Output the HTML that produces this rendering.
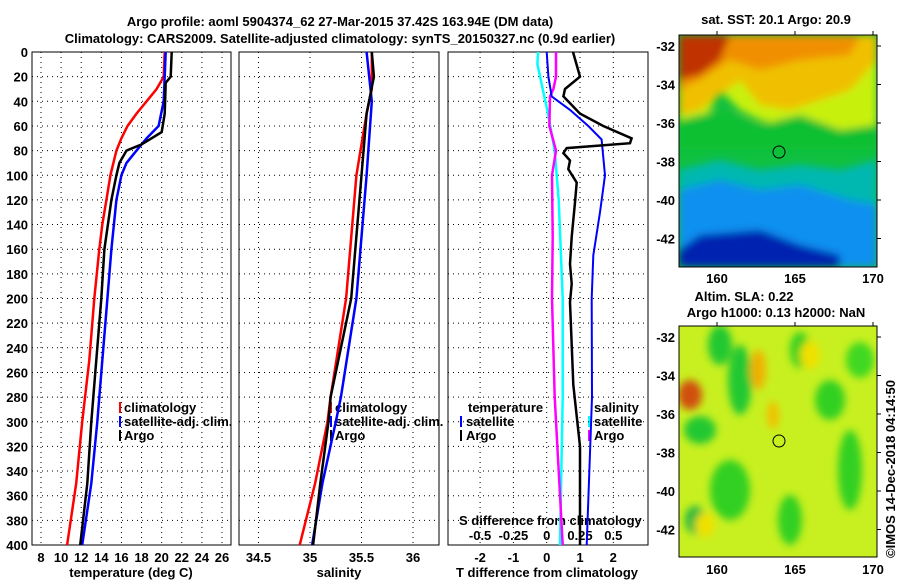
<!DOCTYPE html>
<html><head><meta charset="utf-8"><style>
body{margin:0;background:#fff}
svg text{font-family:"Liberation Sans",sans-serif;font-weight:bold;font-size:13px;fill:#000}
</style></head><body>
<svg id="c" width="900" height="580" xmlns="http://www.w3.org/2000/svg">
<defs><filter id="bl"><feGaussianBlur stdDeviation="4"/></filter>
<clipPath id="m1"><rect x="679" y="35" width="198" height="232"/></clipPath>
<clipPath id="m2"><rect x="679" y="326" width="198" height="231"/></clipPath></defs>
<text x="340" y="26" text-anchor="middle" font-size="14">Argo profile: aoml 5904374_62 27-Mar-2015 37.42S 163.94E (DM data)</text>
<text x="340" y="43" text-anchor="middle" font-size="14">Climatology: CARS2009. Satellite-adjusted climatology: synTS_20150327.nc (0.9d earlier)</text>
<g clip-path="url(#m1)">
<rect x="679" y="35" width="198" height="232" fill="#10c040"/>
<g filter="url(#bl)">
<polygon points="679,35 877,35 877,150 840,140 800,130 760,120 740,110 720,90 700,130 679,135" fill="#c8f010"/>
<polygon points="679,35 877,35 877,60 850,90 820,100 790,110 760,105 740,80 700,110 679,115" fill="#f0c000"/>
<polygon points="679,35 860,35 850,55 800,60 760,70 730,60 700,80 679,90" fill="#f09000"/>
<polygon points="679,35 730,35 720,60 700,75 679,80" fill="#c03000"/>
<polygon points="679,120 720,110 760,125 800,115 840,130 877,125 877,150 679,150" fill="#10c030"/>
<polygon points="679,170 720,160 760,170 800,165 840,170 877,160 877,267 679,267" fill="#00b8b0"/>
<polygon points="679,190 720,180 760,190 800,185 850,200 877,205 877,267 679,267" fill="#1090f0"/>
<polygon points="679,250 700,235 760,230 800,245 840,255 840,267 679,267" fill="#0020b0"/>
</g>
<circle cx="779" cy="152" r="6" fill="none" stroke="#000"/>
</g>
<rect x="679" y="35" width="198" height="232" fill="none" stroke="#000"/>
<g clip-path="url(#m2)">
<rect x="679" y="326" width="198" height="231" fill="#c8f020"/>
<g filter="url(#bl)">
<ellipse cx="720" cy="345" rx="12" ry="20" fill="#20c830"/>
<ellipse cx="740" cy="380" rx="12" ry="35" fill="#20c830"/>
<ellipse cx="700" cy="430" rx="16" ry="14" fill="#20c830"/>
<ellipse cx="730" cy="490" rx="20" ry="30" fill="#30d020"/>
<ellipse cx="695" cy="520" rx="10" ry="14" fill="#20b840"/>
<ellipse cx="800" cy="350" rx="10" ry="18" fill="#30d020"/>
<ellipse cx="830" cy="400" rx="15" ry="20" fill="#30d020"/>
<ellipse cx="850" cy="470" rx="12" ry="40" fill="#30d020"/>
<ellipse cx="790" cy="520" rx="12" ry="25" fill="#30d020"/>
<ellipse cx="860" cy="360" rx="14" ry="18" fill="#40d820"/>
<ellipse cx="690" cy="395" rx="12" ry="15" fill="#d05010"/>
<ellipse cx="758" cy="370" rx="8" ry="20" fill="#f0b000"/>
<ellipse cx="773" cy="415" rx="6" ry="14" fill="#f0c000"/>
<ellipse cx="810" cy="355" rx="10" ry="14" fill="#f0e000"/>
<ellipse cx="705" cy="525" rx="10" ry="12" fill="#f0e000"/>
</g>
<circle cx="779" cy="441" r="6" fill="none" stroke="#000"/>
</g>
<rect x="679" y="326" width="198" height="231" fill="none" stroke="#000"/>
<text x="776" y="24" text-anchor="middle">sat. SST: 20.1 Argo: 20.9</text>
<text x="744" y="301" text-anchor="middle">Altim. SLA: 0.22</text>
<text x="776" y="317" text-anchor="middle">Argo h1000: 0.13 h2000: NaN</text>
<text transform="translate(895,558) rotate(-90)" font-weight="normal" font-size="12">©IMOS 14-Dec-2018 04:14:50</text>
<g>
<text x="131" y="577" text-anchor="middle">temperature (deg C)</text>
<text x="339" y="577" text-anchor="middle">salinity</text>
<text x="547" y="577" text-anchor="middle">T difference from climatology</text>
<text x="459" y="525">S difference from climatology</text>
<line x1="120" x2="120" y1="402" y2="413" stroke="#f00" stroke-width="2"/>
<text x="124" y="412">climatology</text>
<line x1="120" x2="120" y1="416" y2="427" stroke="#00f" stroke-width="2"/>
<text x="124" y="426">satellite-adj. clim.</text>
<line x1="120" x2="120" y1="430" y2="441" stroke="#000" stroke-width="2"/>
<text x="124" y="440">Argo</text>
<line x1="331" x2="331" y1="402" y2="413" stroke="#f00" stroke-width="2"/>
<text x="335" y="412">climatology</text>
<line x1="331" x2="331" y1="416" y2="427" stroke="#00f" stroke-width="2"/>
<text x="335" y="426">satellite-adj. clim.</text>
<line x1="331" x2="331" y1="430" y2="441" stroke="#000" stroke-width="2"/>
<text x="335" y="440">Argo</text>
<text x="468" y="412">temperature</text>
<line x1="461" x2="461" y1="416" y2="427" stroke="#00f" stroke-width="2"/>
<text x="466" y="426">satellite</text>
<line x1="461" x2="461" y1="430" y2="441" stroke="#000" stroke-width="2"/>
<text x="466" y="440">Argo</text>
<text x="594" y="412">salinity</text>
<line x1="589" x2="589" y1="416" y2="427" stroke="#0ff" stroke-width="2"/>
<text x="594" y="426">satellite</text>
<line x1="589" x2="589" y1="430" y2="441" stroke="#f0f" stroke-width="2"/>
<text x="594" y="440">Argo</text>
</g>
</svg>
<script>
// depth levels (dbar)
const tDepth=[0,20,30,40,50,60,70,80,100,120,140,160,200,250,300,350,400];
const tClim=[20.3,20.2,19.5,18.5,17.5,16.6,16.0,15.5,14.9,14.5,14.1,13.8,13.3,12.8,12.1,11.5,10.6];
const tSatDepth=[0,40,60,70,80,90,100,120,160,200,280,300,350,400];
const tSat=[20.4,20.2,19.7,18.5,17.5,16.5,16.0,15.5,15.0,14.6,13.8,13.6,13.0,12.1];
const tArgoDepth=[0,20,25,50,65,75,80,90,100,120,160,200,280,300,350,400];
const tArgo=[21.0,20.9,20.4,20.3,20.0,18.0,16.5,15.8,15.5,15.0,14.3,14.0,13.2,13.0,12.6,11.9];
const sDepth=[0,30,50,100,200,280,300,350,400];
const sClim=[35.6,35.6,35.55,35.45,35.35,35.2,35.17,35.05,34.9];
const sSatDepth=[0,40,100,200,280,300,350,400];
const sSat=[35.55,35.6,35.55,35.45,35.3,35.25,35.12,35.02];
const sArgoDepth=[0,20,50,100,200,280,300,350,400];
const sArgo=[35.6,35.62,35.55,35.5,35.4,35.2,35.18,35.1,35.03];
const dTDepth=[0,20,30,36,50,60,70,74,78,82,88,95,106,122,150,172,188,203,270,320,400];
const dTArgo=[0.79,1.0,0.55,0.5,1.0,1.7,2.55,2.5,0.6,0.5,0.7,0.65,0.9,0.85,0.75,0.7,0.75,0.7,0.8,1.0,1.0];
const dTSatDepth=[0,20,36,47,60,71,100,130,165,200,280,400];
const dTSat=[0.0,0.05,0.15,0.7,1.25,1.65,1.75,1.6,1.4,1.35,1.36,1.2];
const dSSatDepth=[0,10,30,50,80,120,200,280,400];
const dSSat=[-0.065,-0.07,-0.03,0.01,0.06,0.09,0.12,0.12,0.1];
const dSArgoDepth=[0,20,30,36,60,80,100,150,200,280,400];
const dSArgo=[0.07,0.07,0.05,0.025,0.02,0.07,0.04,0.045,0.04,0.06,0.12];
const depthTicks=[0,20,40,60,80,100,120,140,160,180,200,220,240,260,280,300,320,340,360,380,400];
const tTicks=[8,10,12,14,16,18,20,22,24,26];
const sTicks=[34.5,35,35.5,36];
const dTTicks=[-2,-1,0,1,2];
const dSTicks=[-0.5,-0.25,0,0.25,0.5];
const lonTicks=[160,165,170];
const latTicks=[-32,-34,-36,-38,-40,-42];

var svgEl=document.getElementById('c');var SVGNS='http://www.w3.org/2000/svg';
function mk(t,a,p){var e=document.createElementNS(SVGNS,t);for(var k in a)e.setAttribute(k,String(a[k]));(p||svgEl).appendChild(e);return e;}
var TOP=52,BOT=545;
function yD(d){return TOP+d*(BOT-TOP)/400;}
function xT(v){return 41+(v-8)*181/18;}
function xS(v){return 310+(v-35)*103;}
function xdT(v){return 546.7+v*33.3;}
function xdS(v){return 546.7+v*133.2;}
function lbl(x,yy,s,name,anchor){var t=mk('text',{x:x,y:yy,'text-anchor':anchor||'start'});t.textContent=String(s);


return t;}
var P=[[32,231],[239,439],[448,648]];
try{
P.forEach(function(p,i){
  var g=mk('g',{});
  
  
  depthTicks.forEach(function(d){ if(d>0&&d<400){var l=mk('line',{x1:p[0],x2:p[1],y1:yD(d),y2:yD(d),stroke:'#000','stroke-dasharray':'1,4'},g);
    
    }});
  var ticks=i==0?tTicks:i==1?sTicks:dTTicks, fx=i==0?xT:i==1?xS:xdT;
  ticks.forEach(function(v){var l=mk('line',{x1:fx(v),x2:fx(v),y1:TOP,y2:BOT,stroke:'#000','stroke-dasharray':'1,4'},g);
    
    
    var t=mk('text',{x:fx(v),y:562,'text-anchor':'middle'},g);t.textContent=String(v);
    
    });
  var r=mk('rect',{x:p[0],y:TOP,width:p[1]-p[0],height:BOT-TOP,fill:'none',stroke:'#000'},g);
  
  
});
depthTicks.forEach(function(d){lbl(28,yD(d)+5,d,'depth-tick-label','end');});
dSTicks.forEach(function(v){lbl(xdS(v),540,v,'s-diff-tick-label','middle');});
}catch(e){}
function plot(ds,vs,fx,col,w,name){try{var pts=[];for(var i=0;i<ds.length&&i<vs.length;i++)pts.push(fx(vs[i]).toFixed(1)+','+yD(ds[i]).toFixed(1));
  var e=mk('polyline',{points:pts.join(' '),fill:'none',stroke:col,'stroke-width':w});
  
  }catch(err){}}
plot(tDepth,tClim,xT,'#f00',2.5,'temperature-climatology-line');
plot(tSatDepth,tSat,xT,'#00f',2.5,'temperature-satellite-line');
plot(tArgoDepth,tArgo,xT,'#000',2.5,'temperature-argo-line');
plot(sDepth,sClim,xS,'#f00',2.5,'salinity-climatology-line');
plot(sSatDepth,sSat,xS,'#00f',2.5,'salinity-satellite-line');
plot(sArgoDepth,sArgo,xS,'#000',2.5,'salinity-argo-line');
plot(dSSatDepth,dSSat,xdS,'#0ff',2.5,'s-diff-satellite-line');
plot(dSArgoDepth,dSArgo,xdS,'#f0f',2.5,'s-diff-argo-line');
plot(dTSatDepth,dTSat,xdT,'#00f',2,'t-diff-satellite-line');
plot(dTDepth,dTArgo,xdT,'#000',2.5,'t-diff-argo-line');
try{
function lx(v){return 717+(v-160)*15.6;}
[[35,283],[326,574]].forEach(function(m){
  function ly(v){return m[0]+11+(-32-v)*19.25;}
  lonTicks.forEach(function(v){var l=mk('line',{x1:lx(v),x2:lx(v),y1:m[0],y2:m[0]-4,stroke:'#000'});
    
    
    lbl(lx(v),m[1],v,'lon-tick-label','middle');});
  latTicks.forEach(function(v){var l=mk('line',{x1:877,x2:881,y1:ly(v),y2:ly(v),stroke:'#000'});
    
    
    lbl(675,ly(v)+5,v,'lat-tick-label','end');});
});
}catch(e){}
</script>
</body></html>
